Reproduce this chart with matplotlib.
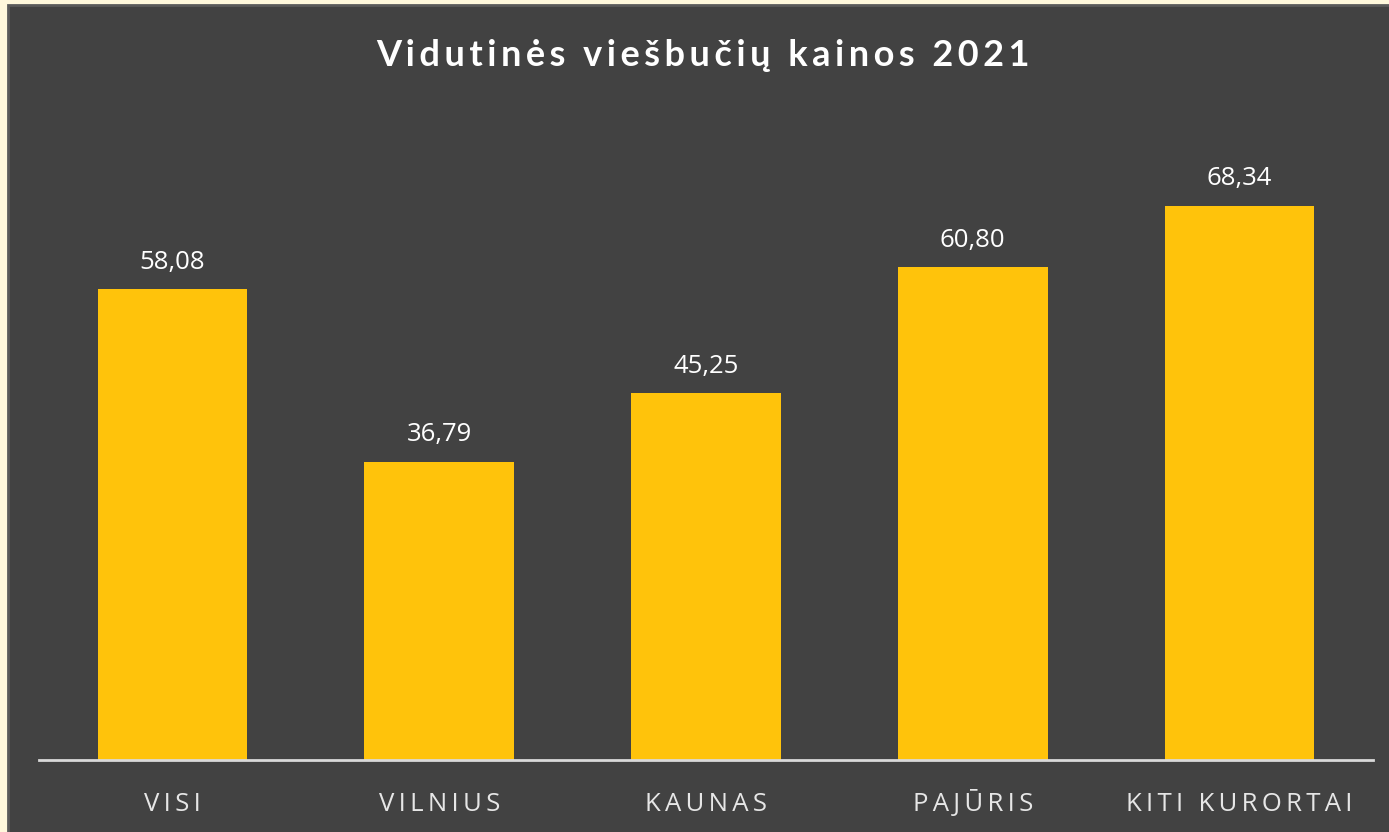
import matplotlib
matplotlib.use('Agg')
import matplotlib.pyplot as plt
from matplotlib.patches import Rectangle

#---------------------------------------------------------
# data
#---------------------------------------------------------
categories = ['VISI', 'VILNIUS', 'KAUNAS', 'PAJŪRIS', 'KITI KURORTAI']
prices = [58.08, 36.79, 45.25, 60.80, 68.34]
title = 'Vidutinės viešbučių kainos 2021'

BG = '#424242'
BAR = '#FFC30B'
CREAM = '#FFF8DC'

def spaced(s, sep='\u2009'):
    # letter spacing like in the original slide
    return sep.join(s)

plt.rcParams['font.family'] = ['Open Sans', 'DejaVu Sans']

W, H = 1389, 832
fig = plt.figure(figsize=(W / 100, H / 100), dpi=100)
fig.patch.set_facecolor(CREAM)

# dark panel with a slightly lighter rim (drawn below the axes)
fig.patches.append(Rectangle((8 / W, -0.01), 1.0, 1.01 - 5 / H, transform=fig.transFigure,
                             facecolor=BG, edgecolor='#5a5a5a', linewidth=2, zorder=-5))

ax = fig.add_axes([39 / W, 72 / H, (1373 - 39) / W, 649 / H])
ax.set_facecolor('none')

x = range(len(categories))
bars = ax.bar(x, prices, width=0.56, color=BAR, zorder=2)

ax.set_xlim(-0.5, len(categories) - 0.5)
ax.set_ylim(0, 80)

for b, v in zip(bars, prices):
    ax.annotate('{0:.2f}'.format(v).replace('.', ','),
                (b.get_x() + b.get_width() / 2, v),
                xytext=(0, 14.5), textcoords='offset points',
                ha='center', va='baseline', color='white', fontsize=18.5)

ax.set_xticks(list(x))
ax.set_xticklabels([spaced(c) for c in categories], color='#e6e6e6', fontsize=18.5)
for lbl in ax.get_xticklabels():
    lbl.set_va('baseline')   # keep PAJŪRIS on the same line as the others
ax.tick_params(axis='x', length=0, pad=36.5)
ax.set_yticks([])
for s in ['top', 'right', 'left']:
    ax.spines[s].set_visible(False)
ax.spines['bottom'].set_color('#d9d9d9')
ax.spines['bottom'].set_linewidth(2)

fig.text(703 / W, 1 - 55 / H, spaced(title), ha='center', va='center',
         color='white', fontsize=26, fontweight='bold', family=['Lato', 'DejaVu Sans'])

plt.savefig('out.png', dpi=100, facecolor=fig.get_facecolor())
